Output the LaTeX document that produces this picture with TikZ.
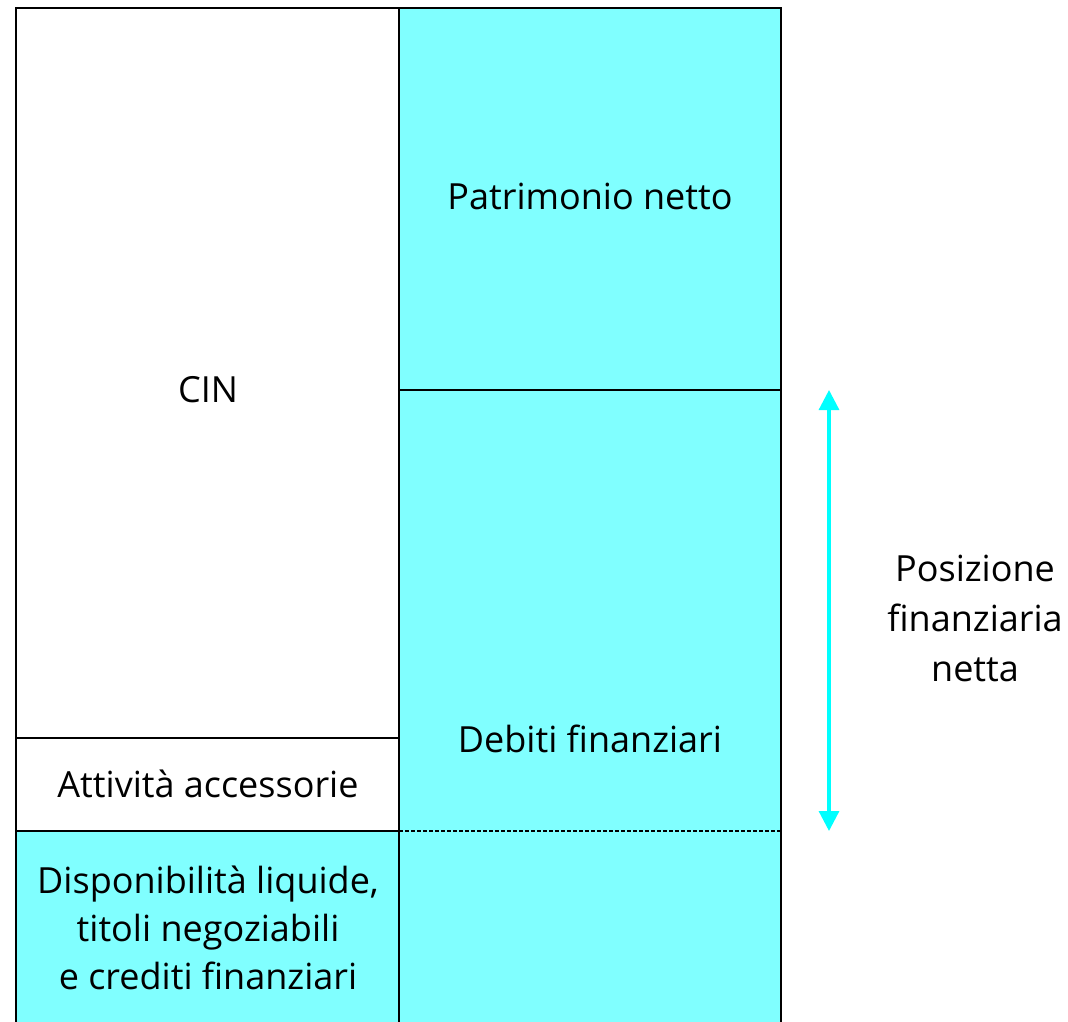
\documentclass[tikz,border=0pt]{standalone}
\usepackage{fontspec}
\setmainfont{Open Sans}
\usepackage{tikz}
\usetikzlibrary{arrows.meta}
\definecolor{cella}{RGB}{128,255,255}
\definecolor{freccia}{RGB}{0,255,255}
\tikzset{
  cella/.style={fill=cella, draw=black, line width=1.2pt},
  bianca/.style={fill=white, draw=black, line width=1.2pt},
  voce/.style={font=\fontsize{18}{24}\selectfont, align=center}
}

\begin{document}
\begin{tikzpicture}[x=0.5pt,y=-0.5pt]
\clip (0,0) rectangle (1068,1021);
\fill[white] (0,0) rectangle (1068,1021);
\draw[bianca] (16,8) rectangle (399,738);
\draw[bianca] (16,738) rectangle (399,831);
\draw[cella] (16,831) rectangle (399,1040);
\draw[cella] (399,8) rectangle (781,390);
\draw[cella] (399,390) rectangle (781,1040);
\draw[black, line width=0.8pt, dashed, dash pattern=on 2pt off 1pt] (399,831) -- (781,831);

\node[voce] (cin) at (208,390) {CIN};
\node[voce] (acc) at (208,784) {Attività accessorie};
\node[voce] (disp) at (208,928) {Disponibilità liquide,\\titoli negoziabili\\e crediti finanziari};
\node[voce] (pn) at (590,196) {Patrimonio netto};
\node[voce] (deb) at (590,739) {Debiti finanziari};
\node[voce, font=\fontsize{18}{25}\selectfont] (pfn) at (975,618) {Posizione\\finanziaria\\netta};

\coordinate (pfnsu) at (829,390);
\coordinate (pfngiu) at (829,831);
\draw[freccia, line width=1.6pt, {Triangle[width=10pt,length=10pt]}-{Triangle[width=10pt,length=10pt]}] (pfnsu) -- (pfngiu);
\end{tikzpicture}
\end{document}
